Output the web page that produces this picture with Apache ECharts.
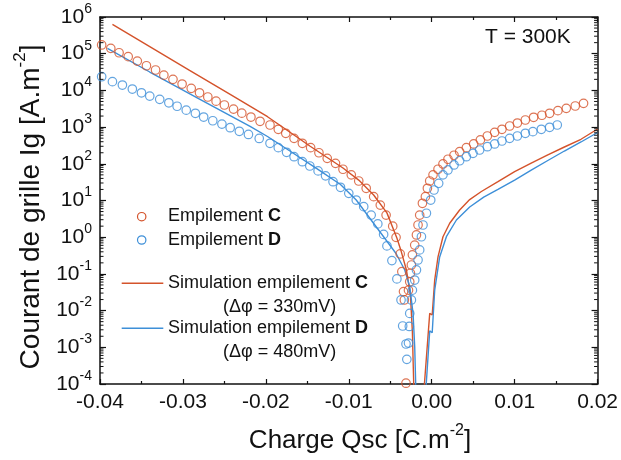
<!DOCTYPE html>
<html>
<head>
<meta charset="utf-8">
<script src="https://cdn.jsdelivr.net/npm/echarts@6.0.0/dist/echarts.min.js"></script>
<style>
html,body{margin:0;padding:0;background:#fff;}
#chart{width:621px;height:460px;}
</style>
</head>
<body>
<div id="chart"></div>
<script>
// ---- Data ----
const xTickValues = [-0.04, -0.03, -0.02, -0.01, 0.00, 0.01, 0.02];
const yDecades = [-4, -3, -2, -1, 0, 1, 2, 3, 4, 5, 6];
const yMinorMantissas = [2, 3, 4, 5, 6, 7, 8, 9];

// Empilement C (measured, circles)
const stackC_Q = [-0.0398,-0.0387,-0.0377,-0.0366,-0.0355,-0.0344,-0.0333,-0.0323,-0.0312,-0.0301,
  -0.0290,-0.0280,-0.0270,-0.0260,-0.0250,-0.0239,-0.0229,-0.0218,-0.0207,-0.0195,
  -0.0185,-0.0176,-0.0166,-0.0156,-0.0146,-0.0136,-0.0126,-0.0116,-0.0107,-0.0097,
  -0.0088,-0.0079,-0.0070,-0.0062,-0.0055,-0.0047,-0.0043,-0.0038,-0.0036,-0.0034,
  -0.0033,-0.0031,
  -0.0028,-0.00265,-0.00257,-0.00245,-0.00233,-0.00205,-0.00184,-0.00165,-0.00145,-0.00112,
  -0.00076,-0.00052,-0.00024,0.00016,0.00076,0.00136,0.00196,0.00269,0.00337,0.00418,
  0.00506,0.00587,0.00671,0.00759,0.00847,0.00940,0.01033,0.01129,0.01229,0.01329,
  0.01422,0.01522,0.01623,0.01731,0.01831];
const stackC_I = [1.73e5,1.40e5,1.06e5,8.3e4,6.3e4,4.7e4,3.6e4,2.6e4,2.0e4,1.49e4,
  1.14e4,8.6e3,6.6e3,5.1e3,4.0e3,3.1e3,2.4e3,1.88e3,1.44e3,1.14e3,
  871,678,495,362,275,200,141,103,71,50,
  34,21.5,12.7,7.5,4.0,2.0,0.99,0.35,0.115,0.033,
  0.0195,1.05e-4,
  0.036,0.061,0.104,0.175,0.33,0.61,1.15,2.15,4.0,8.4,
  12.7,21.5,34,50,71,99,133,171,214,275,
  347,446,572,721,871,1070,1290,1560,1850,2100,
  2380,2800,3250,3760,4450];

// Empilement D (measured, circles)
const stackD_Q = [-0.0398,-0.0385,-0.0373,-0.0361,-0.0350,-0.0340,-0.0328,-0.0317,-0.0307,-0.0296,
  -0.0285,-0.0275,-0.0264,-0.0253,-0.0243,-0.0232,-0.0221,-0.0208,-0.0195,-0.0185,
  -0.0175,-0.0166,-0.0156,-0.0147,-0.0137,-0.0128,-0.0119,-0.0110,-0.0100,-0.0091,
  -0.0082,-0.0073,-0.0065,-0.0058,-0.0054,-0.0048,-0.0042,-0.0037,-0.0035,-0.0031,
  -0.0030,
  -0.0028,-0.0027,-0.00265,-0.00245,-0.00233,-0.00205,-0.00184,-0.00165,-0.00145,-0.00124,
  -0.00105,-0.00064,-0.00012,0.00028,0.00084,0.00136,0.00196,0.00269,0.00337,0.00418,
  0.00498,0.00578,0.00671,0.00759,0.00847,0.00940,0.01033,0.01129,0.01220,0.01322,
  0.01422,0.01514];
const stackD_I = [2.36e4,1.73e4,1.40e4,1.09e4,8.6e3,7.0e3,5.7e3,4.6e3,3.7e3,2.9e3,
  2.38e3,1.88e3,1.49e3,1.21e3,963,769,630,490,362,275,
  206,156,114,87,64,47,32.5,22.9,15.7,10.3,
  6.8,4.0,2.3,1.19,0.58,0.23,0.073,0.0195,0.0038,0.00123,
  4.7e-4,
  0.0013,0.0037,0.0084,0.0195,0.036,0.068,0.128,0.24,0.45,1.03,
  2.15,4.5,10.3,19.3,29.4,50,68,93,121,156,
  193,238,292,347,418,495,572,678,750,871,
  988,1140];

// Simulation empilement C (line, two branches)
const simC_left_Q = [-0.0385,-0.0340,-0.0292,-0.0243,-0.0198,-0.0163,-0.0147,-0.0127,-0.0107,-0.0088,
  -0.0070,-0.0054,-0.0042,-0.00373,-0.00305,-0.00257,-0.00233,-0.00217,-0.0021];
const simC_left_I = [6.3e5,1.56e5,3.5e4,7.8e3,1.92e3,547,305,153,77,36,
  14.1,4.6,0.95,0.45,0.128,0.027,0.0026,1e-4,3e-5];
const simC_right_Q = [-0.0009,-0.00088,-0.00024,0.00006,0.00036,0.00076,0.00136,0.00217,0.00337,0.00458,
  0.00599,0.00799,0.0100,0.0120,0.0140,0.0160,0.0180,0.0200];
const simC_right_I = [3e-5,1e-4,0.0084,0.0076,0.068,0.29,1.03,2.4,5.5,10.6,
  17.6,32.5,61,105,174,287,466,887];

// Simulation empilement D (line, two branches)
const simD_left_Q = [-0.0391,-0.0340,-0.0280,-0.0219,-0.0198,-0.0171,-0.0139,-0.0110,-0.0091,-0.0067,
  -0.0043,-0.00325,-0.00265,-0.00225,-0.00205,-0.00193,-0.0019];
const simD_left_I = [1.39e5,3.17e4,5.8e3,1.04e3,555,223,75,27.3,10.3,1.93,
  0.36,0.128,0.045,0.0084,0.00104,1e-4,3e-5];
const simD_right_Q = [-0.00068,-0.00066,-0.00024,0.00006,0.00036,0.00096,0.00177,0.00298,0.00458,0.00627,
  0.00799,0.0100,0.0120,0.0140,0.0160,0.0180,0.0200];
const simD_right_I = [3e-5,1e-4,0.0028,0.0025,0.036,0.29,1.03,2.94,6.65,12.4,
  20,36,67,123,223,393,713];

// ---- Styling ----
const FONT = '"Liberation Sans", Arial, sans-serif';
const ORANGE = '#d4532b';
const BLUE = '#3d8fd8';
const INK = '#111';

const zip = (a, b) => a.map((v, i) => [v, b[i]]);
const minorTickData = [];
yDecades.slice(0, -1).forEach(d => yMinorMantissas.forEach(m => minorTickData.push([xTickValues[0], m * Math.pow(10, d)])));

const chart = echarts.init(document.getElementById('chart'), null, {renderer: 'canvas'});

const yLabelRich = {
  b: {fontSize: 21, lineHeight: 30, fontFamily: FONT, color: INK},
  e: {fontSize: 14, lineHeight: 14, fontFamily: FONT, color: INK, verticalAlign: 'top'}
};

const xAxisBase = {
  type: 'value', min: xTickValues[0], max: xTickValues[xTickValues.length - 1], interval: 0.01,
  axisLine: {show: true, onZero: false, lineStyle: {color: INK, width: 1.5}},
  axisTick: {show: true, inside: true, length: 5, lineStyle: {color: INK, width: 1.2}},
  minorTick: {show: true, splitNumber: 2, length: 3, lineStyle: {color: INK, width: 1.2}},
  splitLine: {show: false}
};
const yAxisBase = {
  type: 'log', logBase: 10, min: 1e-4, max: 1e6, splitNumber: 10,
  axisLine: {show: true, onZero: false, lineStyle: {color: INK, width: 1.5}},
  axisTick: {show: true, inside: true, length: 6, lineStyle: {color: INK, width: 1.2}},
  splitLine: {show: false}
};

const lineSeries = (name, q, i, color) => ({
  type: 'line', name, data: zip(q, i), showSymbol: false, symbol: 'none',
  lineStyle: {color, width: 1.4}, clip: true, z: 2
});

const option = {
  backgroundColor: '#fff',
  animation: false,
  grid: {left: 100, right: 22, top: 17, bottom: 76},
  xAxis: [
    Object.assign({}, xAxisBase, {position: 'bottom', axisLabel: {
      margin: 8, fontSize: 21, fontFamily: FONT, color: INK,
      formatter: v => (Math.abs(v) < 1e-9 ? 0 : v).toFixed(2)
    }}),
    Object.assign({}, xAxisBase, {position: 'top', axisLabel: {show: false}})
  ],
  yAxis: [
    Object.assign({}, yAxisBase, {position: 'left', axisLabel: {
      margin: 8, fontFamily: FONT, color: INK,
      formatter: v => '{b|10}{e|' + Math.round(Math.log10(v)) + '}',
      rich: yLabelRich
    }}),
    Object.assign({}, yAxisBase, {position: 'right', axisLabel: {show: false}})
  ],
  series: [
    {
      type: 'custom', name: 'yMinorTicks', silent: true, clip: false, z: 5,
      data: minorTickData,
      renderItem: (params, api) => {
        const y = api.coord([xTickValues[0], api.value(1)])[1];
        const cs = params.coordSys;
        return {type: 'group', children: [
          {type: 'line', shape: {x1: cs.x, y1: y, x2: cs.x + 3.5, y2: y}, style: {stroke: INK, lineWidth: 1}},
          {type: 'line', shape: {x1: cs.x + cs.width - 3.5, y1: y, x2: cs.x + cs.width, y2: y}, style: {stroke: INK, lineWidth: 1}}
        ]};
      }
    },
    lineSeries('Simulation empilement C', simC_left_Q, simC_left_I, ORANGE),
    lineSeries('Simulation empilement C', simC_right_Q, simC_right_I, ORANGE),
    lineSeries('Simulation empilement D', simD_left_Q, simD_left_I, BLUE),
    lineSeries('Simulation empilement D', simD_right_Q, simD_right_I, BLUE),
    {type: 'scatter', name: 'Empilement C', data: zip(stackC_Q, stackC_I), symbol: 'circle', symbolSize: 8.5, z: 3,
      itemStyle: {color: 'rgba(0,0,0,0)', borderColor: ORANGE, borderWidth: 1.2}},
    {type: 'scatter', name: 'Empilement D', data: zip(stackD_Q, stackD_I), symbol: 'circle', symbolSize: 8.5, z: 3,
      itemStyle: {color: 'rgba(0,0,0,0)', borderColor: BLUE, borderWidth: 1.2}}
  ],
  graphic: [
    // Axis titles
    {type: 'text', x: 360, y: 441, style: {
      text: '{t|Charge Qsc [C.m}{s|-2}{t|]}', align: 'center', verticalAlign: 'middle',
      rich: {t: {fontSize: 26, lineHeight: 36, fontFamily: FONT, fill: INK},
             s: {fontSize: 16, lineHeight: 16, fontFamily: FONT, fill: INK, verticalAlign: 'top'}}
    }},
    {type: 'text', x: 31, y: 207, rotation: Math.PI / 2, style: {
      text: '{t|Courant de grille Ig [A.m}{s|-2}{t|]}', align: 'center', verticalAlign: 'middle',
      rich: {t: {fontSize: 28, lineHeight: 38, fontFamily: FONT, fill: INK},
             s: {fontSize: 17, lineHeight: 17, fontFamily: FONT, fill: INK, verticalAlign: 'top'}}
    }},
    // Temperature annotation
    {type: 'text', x: 485, y: 37, style: {text: 'T = 300K', fontSize: 21, fontFamily: FONT, fill: INK, verticalAlign: 'middle'}},
    // Legend
    {type: 'circle', shape: {cx: 141.7, cy: 216.7, r: 4.2}, style: {fill: 'none', stroke: ORANGE, lineWidth: 1.2}},
    {type: 'text', x: 168, y: 216.5, style: {text: '{n|Empilement }{b|C}', verticalAlign: 'middle',
      rich: {n: {fontSize: 18, fontFamily: FONT, fill: INK}, b: {fontSize: 18, fontFamily: FONT, fontWeight: 'bold', fill: INK}}}},
    {type: 'circle', shape: {cx: 141.7, cy: 240, r: 4.2}, style: {fill: 'none', stroke: BLUE, lineWidth: 1.2}},
    {type: 'text', x: 168, y: 240, style: {text: '{n|Empilement }{b|D}', verticalAlign: 'middle',
      rich: {n: {fontSize: 18, fontFamily: FONT, fill: INK}, b: {fontSize: 18, fontFamily: FONT, fontWeight: 'bold', fill: INK}}}},
    {type: 'line', shape: {x1: 121.7, y1: 283.3, x2: 163.3, y2: 283.3}, style: {stroke: ORANGE, lineWidth: 1.4}},
    {type: 'text', x: 168, y: 283.3, style: {text: '{n|Simulation empilement }{b|C}', verticalAlign: 'middle',
      rich: {n: {fontSize: 18, fontFamily: FONT, fill: INK}, b: {fontSize: 18, fontFamily: FONT, fontWeight: 'bold', fill: INK}}}},
    {type: 'text', x: 223, y: 306.7, style: {text: '(Δφ = 330mV)', fontSize: 18, fontFamily: FONT, fill: INK, verticalAlign: 'middle'}},
    {type: 'line', shape: {x1: 121.7, y1: 328.3, x2: 163.3, y2: 328.3}, style: {stroke: BLUE, lineWidth: 1.4}},
    {type: 'text', x: 168, y: 328.3, style: {text: '{n|Simulation empilement }{b|D}', verticalAlign: 'middle',
      rich: {n: {fontSize: 18, fontFamily: FONT, fill: INK}, b: {fontSize: 18, fontFamily: FONT, fontWeight: 'bold', fill: INK}}}},
    {type: 'text', x: 223, y: 351.7, style: {text: '(Δφ = 480mV)', fontSize: 18, fontFamily: FONT, fill: INK, verticalAlign: 'middle'}}
  ]
};
chart.setOption(option);
</script>
</body>
</html>
